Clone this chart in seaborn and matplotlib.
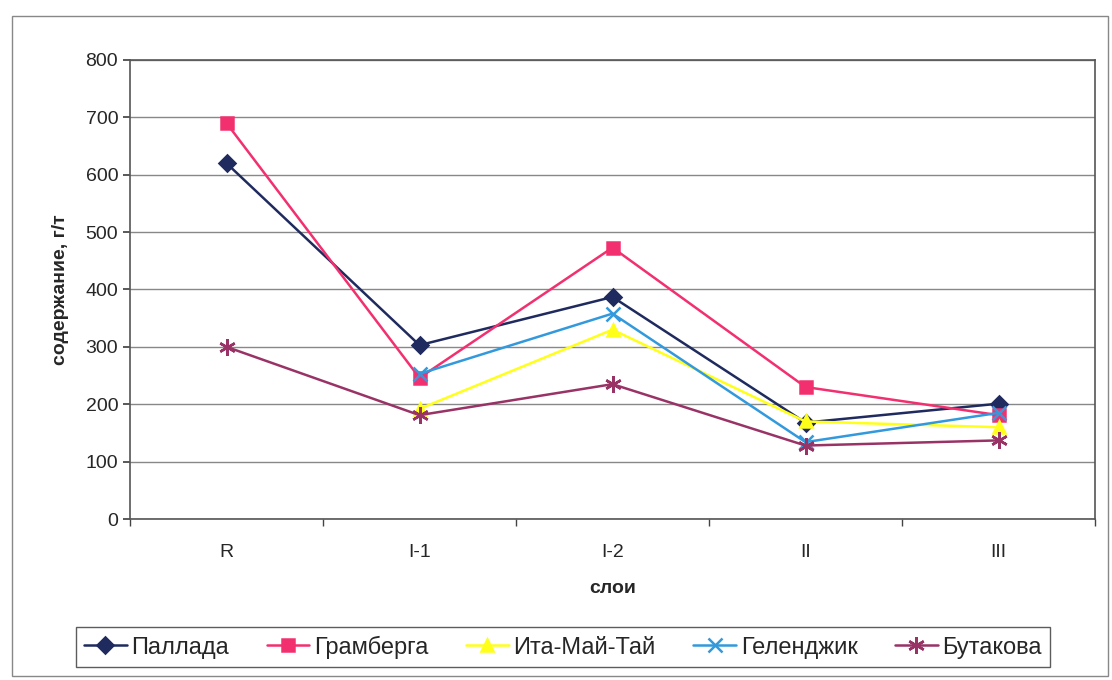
import pandas as pd
import numpy as np
import matplotlib
matplotlib.use("Agg")
import matplotlib.pyplot as plt
import seaborn as sns
from matplotlib.patches import Rectangle

layers = ["R", "I-1", "I-2", "II", "III"]
pallada = [620, 303, 387, 168, 201]
gramberga = [690, 246, 473, 230, 181]
ita_mai_tai = [np.nan, 192, 330, 170, 160]
gelendzhik = [np.nan, 253, 358, 134, 185]
butakova = [300, 181, 235, 128, 137]

series = {
    "Паллада": pallada,
    "Грамберга": gramberga,
    "Ита-Май-Тай": ita_mai_tai,
    "Геленджик": gelendzhik,
    "Бутакова": butakova,
}
colors = ["#1F2A5E", "#F2306F", "#FFFF1A", "#3399DD", "#993366"]
markers = ["D", "s", "^", "x", (6, 2, 0)]
msizes = [8, 9, 9, 10, 12]

sns.set_theme(style="white")
plt.rcParams["font.family"] = ["Liberation Sans", "DejaVu Sans"]

fig = plt.figure(figsize=(11.12, 6.8), dpi=100)
ax = fig.add_axes([130 / 1112, 1 - 519 / 680, 965 / 1112, 459 / 680])

for (name, vals), c, m, ms in zip(series.items(), colors, markers, msizes):
    d = pd.DataFrame({"layer": range(len(layers)), "value": vals}).dropna()
    sns.lineplot(data=d, x="layer", y="value", color=c, marker=m, markersize=ms,
                 markeredgecolor=c, markeredgewidth=1.8, linewidth=1.8,
                 sort=False, label=name, ax=ax)

ax.set_xlim(-0.5, 4.5)
ax.set_ylim(0, 800)
ax.set_yticks(range(0, 801, 100))
ax.yaxis.grid(True, color="#888888", linewidth=1)
ax.set_xticks(range(5))
ax.set_xticklabels(layers)
ax.set_xticks(np.arange(-0.5, 4.6, 1), minor=True)
ax.tick_params(axis="x", which="major", length=0, pad=18, labelsize=14)
ax.tick_params(axis="x", which="minor", length=5, color="#444444", direction="out", bottom=True)
ax.tick_params(axis="y", length=5, color="#444444", direction="out", labelsize=14, left=True)
for s in ax.spines.values():
    s.set_color("#555555")
    s.set_linewidth(1.2)

ax.set_xlabel("слои", fontsize=14, fontweight="bold", labelpad=14)
ax.set_ylabel("содержание, г/т", fontsize=14, fontweight="bold", labelpad=12)

handles, labels = ax.get_legend_handles_labels()
ax.legend(handles, labels, loc="center", bbox_to_anchor=(563 / 1112, 1 - 647 / 680),
          bbox_transform=fig.transFigure, ncol=5, frameon=True, fancybox=False,
          edgecolor="#333333", fontsize=17, handlelength=1.8, handletextpad=0.2,
          columnspacing=1.6, borderpad=0.35)

fig.patches.append(Rectangle((12 / 1112, 4 / 680), 1096 / 1112, 660 / 680,
                             transform=fig.transFigure, fill=False,
                             edgecolor="#888888", linewidth=1))

fig.savefig("out.png", dpi=100)
